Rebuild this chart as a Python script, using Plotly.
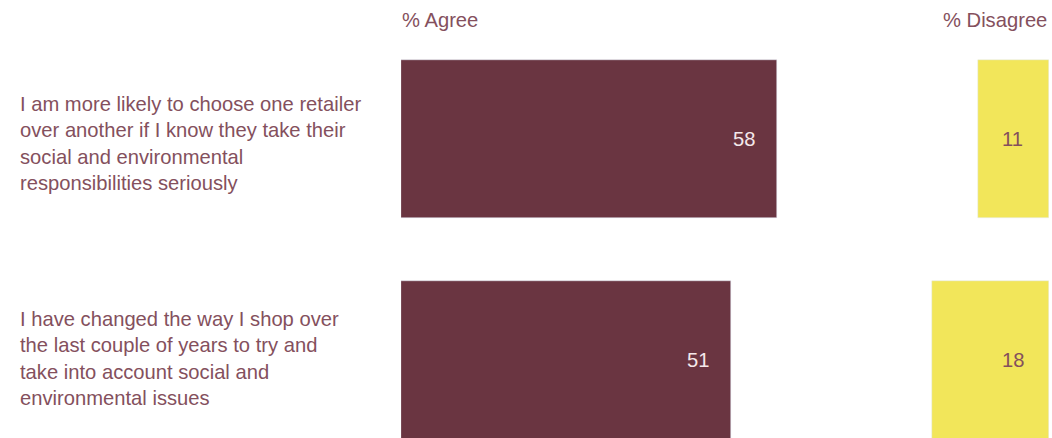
import plotly.graph_objects as go

statements = [
    "I am more likely to choose one retailer<br>over another if I know they take their<br>social and environmental<br>responsibilities seriously",
    "I have changed the way I shop over<br>the last couple of years to try and<br>take into account social and<br>environmental issues",
]
agree = [58, 51]
disagree = [11, 18]
headers = ["% Agree", "% Disagree"]

MAROON = "#6a3541"
YELLOW = "#f2e65a"
TEXT = "#84505d"
FONT = "Liberation Sans"
FS = 20.2

W, H = 1052, 438
PX_PER_UNIT = 6.48
ag_left, ag_right = 401, 900
dis_left, dis_right = 920, 1049

ypos = list(range(len(statements)))
y_lo = -139 / 221
y_hi = (H - 139) / 221

fig = go.Figure()
fig.add_trace(go.Bar(
    x=agree, y=ypos, orientation="h", marker_color=MAROON,
    width=0.715, xaxis="x", yaxis="y", hoverinfo="skip",
))
fig.add_trace(go.Bar(
    x=disagree, y=ypos, orientation="h", marker_color=YELLOW,
    width=0.715, xaxis="x2", yaxis="y", hoverinfo="skip",
))

annotations = []
for i, (txt, a, d) in enumerate(zip(statements, agree, disagree)):
    annotations.append(dict(
        x=18 / W, xref="paper", y=i, yref="y", text=txt, showarrow=False,
        xanchor="left", yanchor="middle", align="left",
        font=dict(family=FONT, size=FS, color=TEXT, weight=300),
        yshift=-4 if i == 0 else 2,
    ))
    annotations.append(dict(
        x=a, xref="x", y=i, yref="y", text=str(a), showarrow=False,
        xanchor="right", yanchor="middle", xshift=-20,
        font=dict(family=FONT, size=FS, color="#f4e8ea", weight=300),
    ))
    annotations.append(dict(
        x=5.6, xref="x2", y=i, yref="y", text=str(d), showarrow=False,
        xanchor="center", yanchor="middle",
        font=dict(family=FONT, size=FS, color=TEXT, weight=300),
    ))

annotations.append(dict(
    x=400 / W, xref="paper", y=1 - 20 / H, yref="paper", text=headers[0],
    showarrow=False, xanchor="left", yanchor="middle",
    font=dict(family=FONT, size=FS, color=TEXT, weight=300),
))
annotations.append(dict(
    x=1049 / W, xref="paper", y=1 - 20 / H, yref="paper", text=headers[1],
    showarrow=False, xanchor="right", yanchor="middle",
    font=dict(family=FONT, size=FS, color=TEXT, weight=300),
))

fig.update_layout(
    width=W, height=H,
    margin=dict(l=0, r=0, t=0, b=0),
    paper_bgcolor="white", plot_bgcolor="white",
    showlegend=False, bargap=0,
    xaxis=dict(domain=[ag_left / W, ag_right / W],
               range=[0, (ag_right - ag_left) / PX_PER_UNIT],
               visible=False, fixedrange=True),
    xaxis2=dict(domain=[dis_left / W, dis_right / W],
                range=[(dis_right - dis_left) / PX_PER_UNIT, 0],
                visible=False, fixedrange=True),
    yaxis=dict(domain=[0, 1], range=[y_hi, y_lo], visible=False,
               fixedrange=True),
    annotations=annotations,
)

fig.write_html("out.html", config={"displayModeBar": False})
